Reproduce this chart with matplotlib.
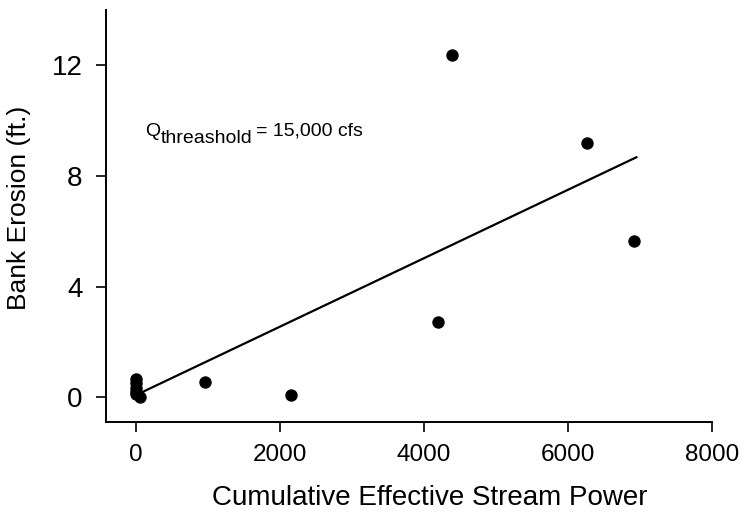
import matplotlib
matplotlib.use("Agg")
import matplotlib.pyplot as plt

plt.rcParams['font.family'] = ['Liberation Sans', 'DejaVu Sans']

# Data
stream_power = [0, 0, 0, 0, 0, 50, 950, 2150, 4200, 4390, 6270, 6920]
bank_erosion = [0.65, 0.5, 0.35, 0.2, 0.1, 0.0, 0.55, 0.08, 2.7, 12.35, 9.2, 5.65]

fit_x = [80, 6950]
fit_y = [0.18, 8.67]

x_ticks = [0, 2000, 4000, 6000, 8000]
y_ticks = [0, 4, 8, 12]

fig = plt.figure(figsize=(7.47, 5.16), dpi=100)
ax = fig.add_axes([0.142, 0.182, 0.811, 0.799])

ax.scatter(stream_power, bank_erosion, s=80, color='black', zorder=3, linewidths=0)
ax.plot(fit_x, fit_y, color='black', lw=1.6)

ax.set_xlim(-420, 8000)
ax.set_ylim(-0.9, 14)
ax.set_xticks(x_ticks)
ax.set_yticks(y_ticks)
ax.spines['top'].set_visible(False)
ax.spines['right'].set_visible(False)
ax.spines['left'].set_linewidth(1.4)
ax.spines['bottom'].set_linewidth(1.4)
ax.tick_params(axis='both', direction='out', length=7, width=1.2)
ax.tick_params(axis='y', labelsize=20, pad=10)
ax.tick_params(axis='x', labelsize=17.5, pad=9)

ax.set_xlabel('Cumulative Effective Stream Power', fontsize=20)
ax.set_ylabel('Bank Erosion (ft.)', fontsize=19)
ax.xaxis.set_label_coords(0.535, -0.153)
ax.yaxis.set_label_coords(-0.124, 0.519)

t1 = ax.text(125, 9.45, 'Q', fontsize=14)
t2 = ax.annotate('threashold', xy=(1, 0), xycoords=t1, xytext=(0.5, -5),
                 textcoords='offset points', fontsize=14, va='bottom')
t3 = ax.annotate('= 15,000 cfs', xy=(1, 0), xycoords=t2, xytext=(2, 5),
                 textcoords='offset points', fontsize=14, va='bottom')

fig.savefig('out.png', dpi=100)
